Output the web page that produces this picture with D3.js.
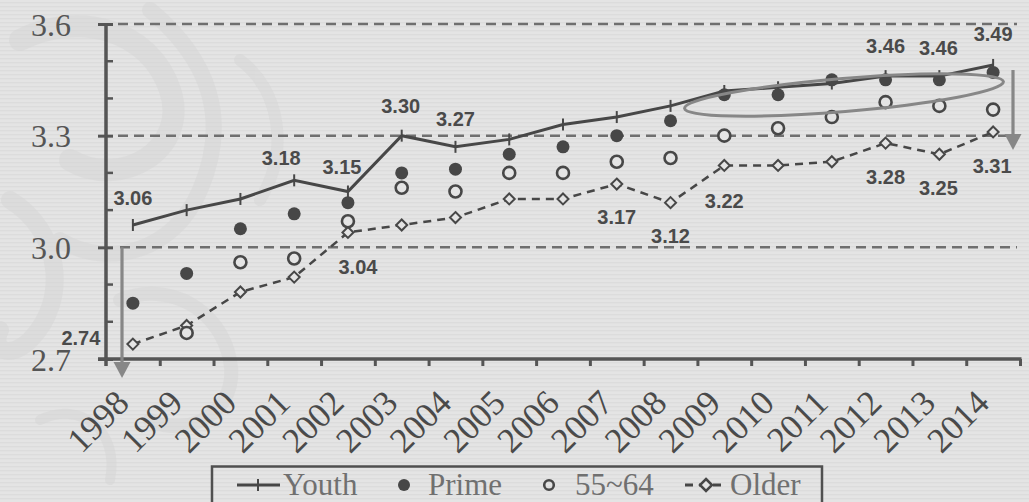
<!DOCTYPE html>
<html>
<head>
<meta charset="utf-8">
<script src="https://cdn.jsdelivr.net/npm/d3@7/dist/d3.min.js"></script>
<style>
  html, body { margin: 0; padding: 0; background: #e3e3e3; }
  svg { display: block; }
</style>
</head>
<body>
<svg id="chart" width="1029" height="502"></svg>
<script>
// ---- data ----
const years = ["1998","1999","2000","2001","2002","2003","2004","2005","2006","2007","2008","2009","2010","2011","2012","2013","2014"];
const youth = [3.06, 3.10, 3.13, 3.18, 3.15, 3.30, 3.27, 3.29, 3.33, 3.35, 3.38, 3.42, 3.43, 3.44, 3.46, 3.46, 3.49];
const prime = [2.85, 2.93, 3.05, 3.09, 3.12, 3.20, 3.21, 3.25, 3.27, 3.30, 3.34, 3.41, 3.41, 3.45, 3.45, 3.45, 3.47];
const age5564 = [null, 2.77, 2.96, 2.97, 3.07, 3.16, 3.15, 3.20, 3.20, 3.23, 3.24, 3.30, 3.32, 3.35, 3.39, 3.38, 3.37];
const older = [2.74, 2.79, 2.88, 2.92, 3.04, 3.06, 3.08, 3.13, 3.13, 3.17, 3.12, 3.22, 3.22, 3.23, 3.28, 3.25, 3.31];
const yTicks = [2.7, 3.0, 3.3, 3.6];
const yMinorTicks = [2.8, 2.9, 3.1, 3.2, 3.4, 3.5];
const legendLabels = ["Youth", "Prime", "55~64", "Older"];

// value labels: which points carry a printed value
const youthLabelled = ["1998","2001","2002","2003","2004","2012","2013","2014"];
const olderLabelled = ["1998","2002","2007","2008","2009","2012","2013","2014"];

// label placement offsets (dx, dy from the point)
const youthLabelOffsets = {"1998":[0,-20],"2001":[-13,-15],"2002":[-6,-18],"2003":[-1,-23],"2004":[0,-21],"2012":[0,-23],"2013":[-1,-21],"2014":[0,-24]};
const olderLabelOffsets = {"1998":[-52,1],"2002":[10,42],"2007":[0,40],"2008":[0,40],"2009":[0,43],"2012":[0,41],"2013":[-1,41],"2014":[-1,41]};

// ---- layout ----
const svg = d3.select("#chart");
const W = 1029, H = 502;
const plotL = 106, plotR = 1020, plotT = 24, plotB = 359;
const ink = "#474747";

const x = d3.scaleBand().domain(years).range([plotL, plotR]);
const xEdge = d3.scaleLinear().domain([0, years.length]).range([plotL, plotR]);
const y = d3.scaleLinear().domain([2.7, 3.6]).range([plotB, plotT]);
const cx = d => x(d) + x.bandwidth() / 2;

// ---- background with fine horizontal stripes ----
const defs = svg.append("defs");
const pat = defs.append("pattern").attr("id", "stripes")
  .attr("patternUnits", "userSpaceOnUse").attr("width", 8).attr("height", 4);
pat.append("rect").attr("width", 8).attr("height", 4).attr("fill", "#e4e4e4");
pat.append("rect").attr("y", 2).attr("width", 8).attr("height", 1.3).attr("fill", "#dcdcdc");
svg.append("rect").attr("width", W).attr("height", H).attr("fill", "url(#stripes)");

// faint decorative swirls at the left
const deco = svg.append("g").attr("fill", "none").attr("stroke", "#d6d6d6").attr("stroke-linecap", "round").attr("opacity", 0.5);
deco.append("path").attr("stroke-width", 22).attr("d", "M20,40 C80,10 150,30 170,90 C190,150 120,190 70,160");
deco.append("path").attr("stroke-width", 16).attr("d", "M150,10 C210,60 230,120 200,190 C175,250 110,270 60,240");
deco.append("path").attr("stroke-width", 18).attr("d", "M10,200 C60,230 70,300 30,340 C10,360 -10,350 0,330");
deco.append("path").attr("stroke-width", 14).attr("d", "M120,300 C170,280 220,310 230,360 C240,410 190,440 150,420");
deco.append("path").attr("stroke-width", 12).attr("d", "M240,60 C280,90 290,150 260,200");
deco.append("path").attr("stroke-width", 10).attr("d", "M40,420 C80,400 120,430 110,480");

// ---- gridlines ----
svg.append("g").selectAll("line").data(yTicks.slice(1)).join("line")
  .attr("x1", d => d === 3.0 ? 120 : 118).attr("x2", 1017)
  .attr("y1", d => y(d)).attr("y2", d => y(d))
  .attr("stroke", "#6f6f6f").attr("stroke-width", 2.5).attr("stroke-dasharray", "10,6");

// ---- axes ----
const yAxis = svg.append("g").attr("transform", `translate(${plotL},0)`)
  .call(d3.axisLeft(y).tickValues(yTicks).tickSize(8).tickFormat(d3.format(".1f")));
yAxis.select(".domain").remove();
yAxis.selectAll(".tick line").attr("x2", -8).attr("x1", 7).attr("stroke", "#555").attr("stroke-width", 3);
yAxis.selectAll(".tick text").attr("x", -35).attr("dy", "0.35em")
  .attr("font-family", "'Liberation Serif', serif").attr("font-size", 32).attr("fill", "#555");
svg.append("g").attr("transform", `translate(${plotL},0)`)
  .selectAll("line").data(yMinorTicks).join("line")
  .attr("x1", 0).attr("x2", 7).attr("y1", d => y(d)).attr("y2", d => y(d))
  .attr("stroke", "#555").attr("stroke-width", 2.5);
svg.append("line").attr("x1", plotL).attr("x2", plotL).attr("y1", plotT - 1).attr("y2", plotB + 7)
  .attr("stroke", "#555").attr("stroke-width", 3.5);

const xAxis = svg.append("g").attr("transform", `translate(0,${plotB})`)
  .call(d3.axisBottom(xEdge).tickValues(d3.range(1, years.length + 1)).tickSize(7).tickFormat(""));
xAxis.select(".domain").remove();
xAxis.selectAll(".tick line").attr("stroke", "#555").attr("stroke-width", 3);
svg.append("line").attr("x1", plotL - 8).attr("x2", plotR + 1.5).attr("y1", plotB).attr("y2", plotB)
  .attr("stroke", "#555").attr("stroke-width", 3.5);

// rotated year labels
svg.append("g").selectAll("text").data(years).join("text")
  .attr("transform", d => `translate(${cx(d) - 2},${plotB + 46}) rotate(-45)`)
  .attr("text-anchor", "end")
  .attr("font-family", "'Liberation Serif', serif").attr("font-size", 35).attr("fill", "#4a4a4a")
  .text(d => d);

// ---- series ----
const pts = arr => years.map((yr, i) => ({yr, v: arr[i]})).filter(d => d.v != null);

// Youth: solid line with cross markers
svg.append("path").datum(pts(youth))
  .attr("fill", "none").attr("stroke", ink).attr("stroke-width", 3)
  .attr("d", d3.line().x(d => cx(d.yr)).y(d => y(d.v)));
svg.append("g").selectAll("line").data(pts(youth)).join("line")
  .attr("x1", d => cx(d.yr)).attr("x2", d => cx(d.yr))
  .attr("y1", d => y(d.v) - 6).attr("y2", d => y(d.v) + 6)
  .attr("stroke", ink).attr("stroke-width", 2);

// Older: dashed line with diamond markers
svg.append("path").datum(pts(older))
  .attr("fill", "none").attr("stroke", ink).attr("stroke-width", 2.5).attr("stroke-dasharray", "8,6")
  .attr("d", d3.line().x(d => cx(d.yr)).y(d => y(d.v)));
svg.append("g").selectAll("path").data(pts(older)).join("path")
  .attr("transform", d => `translate(${cx(d.yr)},${y(d.v)})`)
  .attr("d", "M0,-5.5 L5.5,0 L0,5.5 L-5.5,0 Z")
  .attr("fill", "#e4e4e4").attr("stroke", ink).attr("stroke-width", 2);

// 55~64: open circles
svg.append("g").selectAll("circle").data(pts(age5564)).join("circle")
  .attr("cx", d => cx(d.yr)).attr("cy", d => y(d.v)).attr("r", 6)
  .attr("fill", "#e4e4e4").attr("stroke", ink).attr("stroke-width", 2.6);

// Prime: filled dots
svg.append("g").selectAll("circle").data(pts(prime)).join("circle")
  .attr("cx", d => cx(d.yr)).attr("cy", d => y(d.v)).attr("r", 6.5)
  .attr("fill", ink);

// ---- value labels ----
const labelFont = "'Liberation Sans', Arial, sans-serif";
function valueLabels(arr, which, offsets) {
  svg.append("g").selectAll("text").data(which).join("text")
    .attr("x", d => cx(d) + offsets[d][0])
    .attr("y", d => y(arr[years.indexOf(d)]) + offsets[d][1])
    .attr("text-anchor", "middle")
    .attr("font-family", labelFont).attr("font-weight", "bold").attr("font-size", 20)
    .attr("fill", "#4a4a4a")
    .text(d => arr[years.indexOf(d)].toFixed(2));
}
valueLabels(youth, youthLabelled, youthLabelOffsets);
valueLabels(older, olderLabelled, olderLabelOffsets);

// ---- annotations: ellipse and arrows ----
const annot = "#878787";
svg.append("ellipse")
  .attr("cx", 844).attr("cy", 95).attr("rx", 160).attr("ry", 16.5)
  .attr("transform", "rotate(-4.8 844 95)")
  .attr("fill", "none").attr("stroke", annot).attr("stroke-width", 3);

function arrow(xp, y0, y1) {
  svg.append("line").attr("x1", xp).attr("x2", xp).attr("y1", y0).attr("y2", y1 - 14)
    .attr("stroke", annot).attr("stroke-width", 3.2);
  svg.append("path").attr("d", `M${xp - 8.5},${y1 - 16} L${xp + 8.5},${y1 - 16} L${xp},${y1} Z`)
    .attr("fill", annot);
}
arrow(122, y(3.0), 378);
arrow(1013, 70, 150);

// ---- legend ----
const lg = svg.append("g");
lg.append("rect").attr("x", 212).attr("y", 466.5).attr("width", 610).attr("height", 60)
  .attr("fill", "none").attr("stroke", "#505050").attr("stroke-width", 2.5);
const ly = 485;
// Youth symbol
lg.append("line").attr("x1", 237).attr("x2", 280).attr("y1", ly).attr("y2", ly).attr("stroke", ink).attr("stroke-width", 3);
lg.append("line").attr("x1", 258).attr("x2", 258).attr("y1", ly - 6).attr("y2", ly + 6).attr("stroke", ink).attr("stroke-width", 2);
// Prime symbol
lg.append("circle").attr("cx", 404).attr("cy", ly).attr("r", 6).attr("fill", ink);
// 55~64 symbol
lg.append("circle").attr("cx", 549).attr("cy", ly).attr("r", 4.8).attr("fill", "none").attr("stroke", ink).attr("stroke-width", 2.6);
// Older symbol
lg.append("line").attr("x1", 685).attr("x2", 727).attr("y1", ly).attr("y2", ly).attr("stroke", ink).attr("stroke-width", 3).attr("stroke-dasharray", "8,6");
lg.append("path").attr("transform", `translate(706,${ly})`).attr("d", "M0,-6 L6,0 L0,6 L-6,0 Z")
  .attr("fill", "#e4e4e4").attr("stroke", ink).attr("stroke-width", 2.5);
const legendX = [283, 428, 575, 730];
lg.selectAll("text.lbl").data(legendLabels).join("text").attr("class", "lbl")
  .attr("x", (d, i) => legendX[i]).attr("y", 495)
  .attr("font-family", "'Liberation Serif', serif").attr("font-size", 31).attr("fill", "#707070")
  .text(d => d);
</script>
</body>
</html>
